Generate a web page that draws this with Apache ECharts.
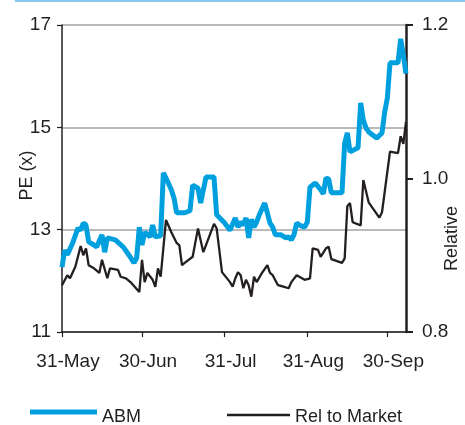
<!DOCTYPE html>
<html><head><meta charset="utf-8">
<script src="https://cdn.jsdelivr.net/npm/echarts@6/dist/echarts.min.js"></script>
<style>html,body{margin:0;padding:0;background:#fff}#c{width:465px;height:425px}</style>
</head><body><div id="c"></div>
<script>
const abmDates = ['2011-05-31','2011-06-01','2011-06-02','2011-06-04','2011-06-06','2011-06-07','2011-06-08','2011-06-09','2011-06-10','2011-06-12','2011-06-13','2011-06-15','2011-06-16','2011-06-17','2011-06-20','2011-06-23','2011-06-25','2011-06-27','2011-06-28','2011-06-29','2011-06-30','2011-07-01','2011-07-03','2011-07-04','2011-07-05','2011-07-07','2011-07-08','2011-07-09','2011-07-11','2011-07-12','2011-07-13','2011-07-16','2011-07-18','2011-07-19','2011-07-21','2011-07-22','2011-07-24','2011-07-27','2011-07-28','2011-07-31','2011-08-02','2011-08-03','2011-08-04','2011-08-05','2011-08-06','2011-08-07','2011-08-08','2011-08-09','2011-08-10','2011-08-11','2011-08-12','2011-08-13','2011-08-15','2011-08-16','2011-08-17','2011-08-18','2011-08-19','2011-08-21','2011-08-23','2011-08-24','2011-08-25','2011-08-26','2011-08-27','2011-08-28','2011-08-30','2011-08-31','2011-09-01','2011-09-03','2011-09-05','2011-09-06','2011-09-07','2011-09-08','2011-09-09','2011-09-13','2011-09-14','2011-09-15','2011-09-16','2011-09-19','2011-09-20','2011-09-21','2011-09-22','2011-09-23','2011-09-26','2011-09-28','2011-09-29','2011-09-30','2011-10-01','2011-10-04','2011-10-05','2011-10-06','2011-10-07'];
const abmValues = [12.27,12.60,12.51,12.74,13.03,12.99,13.13,13.09,12.76,12.70,12.66,12.90,12.56,12.84,12.80,12.66,12.51,12.35,12.45,13.05,12.70,12.95,12.86,13.09,12.86,12.88,14.11,14.01,13.78,13.62,13.33,13.33,13.37,13.87,13.81,13.52,14.03,14.03,13.29,13.13,12.99,13.11,13.23,13.05,13.15,13.09,13.23,12.84,13.20,13.05,13.15,13.29,13.52,13.33,13.13,13.05,12.90,12.90,12.84,12.86,12.80,12.90,13.13,13.09,13.05,13.15,13.83,13.91,13.78,13.70,14.01,13.99,13.72,13.72,14.69,14.89,14.52,14.60,15.48,15.14,14.99,14.91,14.79,14.89,15.30,15.57,16.26,16.26,16.73,16.41,16.05];
const relDates = ['2011-05-31','2011-06-02','2011-06-03','2011-06-05','2011-06-07','2011-06-08','2011-06-09','2011-06-10','2011-06-12','2011-06-14','2011-06-15','2011-06-17','2011-06-18','2011-06-21','2011-06-22','2011-06-24','2011-06-26','2011-06-29','2011-06-30','2011-07-01','2011-07-02','2011-07-04','2011-07-05','2011-07-06','2011-07-07','2011-07-09','2011-07-11','2011-07-13','2011-07-14','2011-07-15','2011-07-16','2011-07-19','2011-07-21','2011-07-23','2011-07-27','2011-07-28','2011-07-30','2011-08-02','2011-08-03','2011-08-04','2011-08-05','2011-08-06','2011-08-07','2011-08-08','2011-08-09','2011-08-10','2011-08-11','2011-08-12','2011-08-14','2011-08-16','2011-08-17','2011-08-18','2011-08-20','2011-08-22','2011-08-24','2011-08-25','2011-08-27','2011-08-30','2011-09-01','2011-09-02','2011-09-04','2011-09-05','2011-09-07','2011-09-08','2011-09-09','2011-09-13','2011-09-14','2011-09-15','2011-09-16','2011-09-17','2011-09-20','2011-09-21','2011-09-23','2011-09-27','2011-09-28','2011-10-01','2011-10-04','2011-10-05','2011-10-06','2011-10-07'];
const relValues = [0.861,0.874,0.870,0.885,0.912,0.900,0.909,0.887,0.883,0.877,0.894,0.870,0.883,0.881,0.872,0.870,0.864,0.852,0.894,0.865,0.877,0.868,0.859,0.883,0.872,0.946,0.930,0.916,0.913,0.887,0.890,0.898,0.935,0.904,0.941,0.935,0.878,0.865,0.859,0.870,0.878,0.874,0.857,0.868,0.861,0.846,0.872,0.865,0.877,0.887,0.877,0.874,0.861,0.859,0.857,0.865,0.874,0.868,0.870,0.909,0.907,0.898,0.909,0.911,0.895,0.890,0.896,0.964,0.968,0.943,0.939,0.998,0.969,0.949,0.956,1.035,1.033,1.055,1.045,1.074];
const tickDates = ['2011-05-31','2011-06-30','2011-07-31','2011-08-31','2011-09-30'];
const tickLabels = ['31-May','30-Jun','31-Jul','31-Aug','30-Sep'];
const xStart = '2011-05-31', xEnd = '2011-10-07';

function ts(s){const p=s.split('-').map(Number);return Date.UTC(p[0],p[1]-1,p[2]);}
const tickTs = tickDates.map(ts);
const font = 'Arial, "Liberation Sans", sans-serif';
const txt = '#231f20';
const blue = '#00a0df';

const chart = echarts.init(document.getElementById('c'));
chart.setOption({
  animation:false,
  backgroundColor:'#fff',
  textStyle:{fontFamily:font},
  graphic:[{type:'rect',shape:{x:15,y:0,width:450,height:2},style:{fill:'#8cc8eb'}}],
  grid:{left:62,right:59,top:25,bottom:93,containLabel:false,outerBoundsMode:'none'},
  legend:[{
    left:30, top:408, padding:0, itemWidth:67, itemHeight:5, icon:'rect',
    formatter:'{t|{name}}',
    textStyle:{fontSize:18,color:txt,fontFamily:font,rich:{t:{fontSize:18,color:txt,fontFamily:font,padding:[10,0,0,0]}}},
    data:[{name:'ABM'}]
  },{
    left:227, top:408, padding:0, itemWidth:63, itemHeight:2.5, icon:'rect',
    formatter:'{t|{name}}',
    textStyle:{fontSize:18,color:txt,fontFamily:font,rich:{t:{fontSize:18,color:txt,fontFamily:font,padding:[4,0,0,0]}}},
    data:[{name:'Rel to Market'}]
  }],
  xAxis:{
    type:'value', min:ts(xStart), max:ts(xEnd),
    axisLine:{lineStyle:{color:txt,width:1.5}},
    axisTick:{show:true,length:5,lineStyle:{color:txt,width:1.2},customValues:tickTs},
    axisLabel:{customValues:tickTs,fontSize:19,color:txt,margin:20,padding:[0,0,0,12],
      formatter:function(v){const i=tickTs.indexOf(v);return i>=0?tickLabels[i]:'';}},
    splitLine:{show:false}
  },
  yAxis:[{
    type:'value', min:11, max:17, interval:2, position:'left',
    name:'PE (x)', nameLocation:'middle', nameGap:26, nameRotate:90, nameMoveOverlap:false,
    nameTextStyle:{fontSize:18,color:txt,padding:[0,0,0,6]},
    axisLine:{show:true,lineStyle:{color:txt,width:1.5}},
    axisTick:{show:true,length:5,lineStyle:{color:txt,width:1.2}},
    axisLabel:{fontSize:19,color:txt,margin:11},
    splitLine:{show:true,lineStyle:{color:'#a3a3a3',width:1.5}}
  },{
    type:'value', min:0.8, max:1.2, interval:0.2, position:'right',
    name:'Relative', nameLocation:'middle', nameGap:37, nameRotate:90, nameMoveOverlap:false,
    nameTextStyle:{fontSize:18,color:txt,padding:[0,120,0,0]},
    axisLine:{show:true,lineStyle:{color:txt,width:2.5}},
    axisTick:{show:true,length:7,lineStyle:{color:txt,width:2}},
    axisLabel:{fontSize:19,color:txt,margin:16,formatter:v=>v.toFixed(1)},
    splitLine:{show:false}
  }],
  series:[{
    name:'ABM', type:'line', yAxisIndex:0, symbol:'none',
    data:abmDates.map((d,i)=>[ts(d),abmValues[i]]),
    lineStyle:{color:blue,width:5}, itemStyle:{color:blue}
  },{
    name:'Rel to Market', type:'line', yAxisIndex:1, symbol:'none',
    data:relDates.map((d,i)=>[ts(d),relValues[i]]),
    lineStyle:{color:txt,width:2.3}, itemStyle:{color:txt}
  }]
});
</script></body></html>
